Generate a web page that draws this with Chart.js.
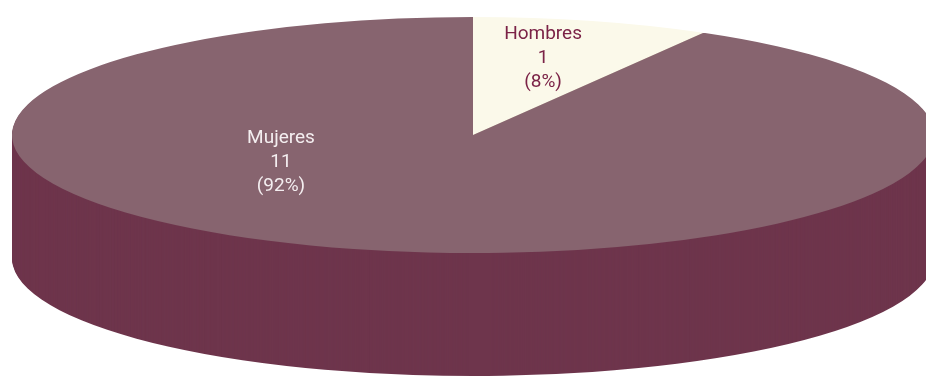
<!DOCTYPE html>
<html><head><meta charset="utf-8">
<script src="https://cdn.jsdelivr.net/npm/chart.js@4/dist/chart.umd.min.js"></script>
<style>html,body{margin:0;padding:0;background:#fff;overflow:hidden}canvas{display:block}</style>
</head><body>
<canvas id="c" width="926" height="379"></canvas>
<script>
// ---- data ----
const categories = ['Hombres', 'Mujeres'];
const counts = [1, 11];

// ---- styling ----
const topColors  = ['#FBF9EA', '#87646F'];
const sideColors = ['#E4DFC4', '#6E354C'];
const textColors = ['#7B2347', '#F4EEF0'];

const total = counts.reduce((s, v) => s + v, 0);

const pie3d = {
  id: 'pie3d',
  beforeDatasetsDraw(chart, args, o) {
    const arcs = chart.getDatasetMeta(0).data;
    const { x, y, outerRadius: r } = arcs[0];
    const sx = o.rx / r, sy = o.ry / r;
    const ctx = chart.ctx;
    for (let i = 0; i < arcs.length; i++) {
      const a = arcs[i];
      ctx.fillStyle = o.sideColors[i];
      for (let d = o.depth; d >= 1; d--) {
        ctx.save();
        ctx.translate(x, y + d);
        ctx.scale(sx, sy);
        ctx.beginPath();
        ctx.moveTo(0, 0);
        ctx.arc(0, 0, a.outerRadius, a.startAngle, a.endAngle);
        ctx.closePath();
        ctx.fill();
        ctx.restore();
      }
    }
    ctx.save();
    ctx.translate(x, y);
    ctx.scale(sx, sy);
    ctx.translate(-x, -y);
  },
  afterDatasetsDraw(chart, args, o) {
    const ctx = chart.ctx;
    ctx.restore();
    const arcs = chart.getDatasetMeta(0).data;
    const { x, y } = arcs[0];
    const data = chart.data.datasets[0].data;
    ctx.save();
    ctx.font = o.font;
    ctx.textAlign = 'center';
    ctx.textBaseline = 'middle';
    arcs.forEach((a, i) => {
      const an = o.labelAnchors[i];
      const px = x + an[0] * o.rx, py = y + an[1] * o.ry;
      const pct = Math.round(data[i] / total * 100);
      const lines = [chart.data.labels[i], String(data[i]), '(' + pct + '%)'];
      ctx.fillStyle = o.textColors[i];
      lines.forEach((t, k) => ctx.fillText(t, px, py + (k - 1) * o.lineHeight));
    });
    ctx.restore();
  }
};

new Chart(document.getElementById('c'), {
  type: 'pie',
  data: {
    labels: categories,
    datasets: [{
      data: counts,
      backgroundColor: topColors,
      borderWidth: 0,
      clip: false
    }]
  },
  options: {
    responsive: false,
    animation: false,
    layout: { padding: { left: 20, right: 0, top: 0, bottom: 109 } },
    plugins: {
      legend: { display: false },
      tooltip: { enabled: false },
      pie3d: {
        rx: 461, ry: 118, depth: 123,
        sideColors: sideColors,
        textColors: textColors,
        font: '19px "Liberation Sans Narrow", "Roboto", sans-serif',
        lineHeight: 24,
        labelAnchors: [[0.152, -0.652], [-0.4165, 0.229]]
      }
    }
  },
  plugins: [pie3d]
});
</script>
</body></html>
